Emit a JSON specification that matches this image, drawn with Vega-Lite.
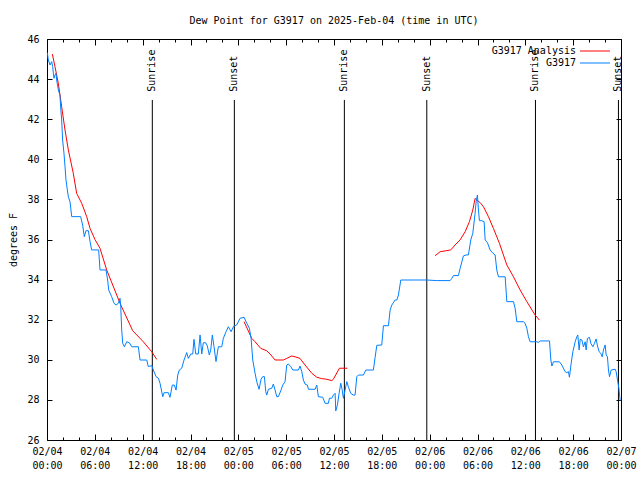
{
  "$schema": "https://vega.github.io/schema/vega-lite/v6.json",
  "width": 574,
  "height": 401,
  "autosize": {"type": "none"},
  "padding": {"left": 47, "top": 39, "right": 19, "bottom": 40},
  "background": "white",
  "title": {"text": "Dew Point for G3917 on 2025-Feb-04 (time in UTC)", "font": "DejaVu Sans Mono", "fontSize": 10, "fontWeight": "normal", "color": "black", "anchor": "middle", "offset": 8},
  "config": {
    "font": "DejaVu Sans Mono",
    "view": {"stroke": "black", "strokeWidth": 1},
    "axis": {"domain": false, "grid": false, "labelFont": "DejaVu Sans Mono", "labelFontSize": 10, "labelColor": "black", "tickColor": "black", "tickWidth": 1, "titleFont": "DejaVu Sans Mono", "titleFontSize": 10, "titleFontWeight": "normal", "titleColor": "black"}
  },
  "datasets": {
    "sun": [
      {"t": 13.21, "label": "Sunrise"},
      {"t": 23.5, "label": "Sunset"},
      {"t": 37.3, "label": "Sunrise"},
      {"t": 47.64, "label": "Sunset"},
      {"t": 61.27, "label": "Sunrise"},
      {"t": 71.68, "label": "Sunset"}
    ],
    "analysis": [
      {"h": 0.67, "v": 45.25, "seg": 1, "series": "G3917 Analysis"},
      {"h": 1.0, "v": 44.62, "seg": 1, "series": "G3917 Analysis"},
      {"h": 1.42, "v": 43.79, "seg": 1, "series": "G3917 Analysis"},
      {"h": 1.84, "v": 42.62, "seg": 1, "series": "G3917 Analysis"},
      {"h": 2.26, "v": 41.46, "seg": 1, "series": "G3917 Analysis"},
      {"h": 2.68, "v": 40.46, "seg": 1, "series": "G3917 Analysis"},
      {"h": 3.3, "v": 39.3, "seg": 1, "series": "G3917 Analysis"},
      {"h": 3.72, "v": 38.3, "seg": 1, "series": "G3917 Analysis"},
      {"h": 4.35, "v": 37.81, "seg": 1, "series": "G3917 Analysis"},
      {"h": 4.98, "v": 37.14, "seg": 1, "series": "G3917 Analysis"},
      {"h": 5.4, "v": 36.55, "seg": 1, "series": "G3917 Analysis"},
      {"h": 6.02, "v": 36.0, "seg": 1, "series": "G3917 Analysis"},
      {"h": 6.65, "v": 35.56, "seg": 1, "series": "G3917 Analysis"},
      {"h": 7.49, "v": 34.48, "seg": 1, "series": "G3917 Analysis"},
      {"h": 9.16, "v": 32.82, "seg": 1, "series": "G3917 Analysis"},
      {"h": 10.75, "v": 31.45, "seg": 1, "series": "G3917 Analysis"},
      {"h": 12.08, "v": 30.9, "seg": 1, "series": "G3917 Analysis"},
      {"h": 13.14, "v": 30.4, "seg": 1, "series": "G3917 Analysis"},
      {"h": 13.76, "v": 30.02, "seg": 1, "series": "G3917 Analysis"},
      {"h": 24.72, "v": 31.9, "seg": 2, "series": "G3917 Analysis"},
      {"h": 25.68, "v": 31.07, "seg": 2, "series": "G3917 Analysis"},
      {"h": 26.1, "v": 30.9, "seg": 2, "series": "G3917 Analysis"},
      {"h": 26.81, "v": 30.57, "seg": 2, "series": "G3917 Analysis"},
      {"h": 27.57, "v": 30.45, "seg": 2, "series": "G3917 Analysis"},
      {"h": 27.98, "v": 30.29, "seg": 2, "series": "G3917 Analysis"},
      {"h": 28.61, "v": 29.99, "seg": 2, "series": "G3917 Analysis"},
      {"h": 29.65, "v": 29.99, "seg": 2, "series": "G3917 Analysis"},
      {"h": 30.07, "v": 30.07, "seg": 2, "series": "G3917 Analysis"},
      {"h": 30.7, "v": 30.19, "seg": 2, "series": "G3917 Analysis"},
      {"h": 31.12, "v": 30.15, "seg": 2, "series": "G3917 Analysis"},
      {"h": 31.74, "v": 30.07, "seg": 2, "series": "G3917 Analysis"},
      {"h": 32.37, "v": 29.74, "seg": 2, "series": "G3917 Analysis"},
      {"h": 33.21, "v": 29.33, "seg": 2, "series": "G3917 Analysis"},
      {"h": 33.84, "v": 29.13, "seg": 2, "series": "G3917 Analysis"},
      {"h": 34.46, "v": 29.06, "seg": 2, "series": "G3917 Analysis"},
      {"h": 35.09, "v": 29.03, "seg": 2, "series": "G3917 Analysis"},
      {"h": 35.72, "v": 28.96, "seg": 2, "series": "G3917 Analysis"},
      {"h": 35.92, "v": 29.03, "seg": 2, "series": "G3917 Analysis"},
      {"h": 36.68, "v": 29.58, "seg": 2, "series": "G3917 Analysis"},
      {"h": 37.68, "v": 29.58, "seg": 2, "series": "G3917 Analysis"},
      {"h": 48.68, "v": 35.19, "seg": 3, "series": "G3917 Analysis"},
      {"h": 49.31, "v": 35.39, "seg": 3, "series": "G3917 Analysis"},
      {"h": 50.06, "v": 35.44, "seg": 3, "series": "G3917 Analysis"},
      {"h": 50.65, "v": 35.48, "seg": 3, "series": "G3917 Analysis"},
      {"h": 51.19, "v": 35.73, "seg": 3, "series": "G3917 Analysis"},
      {"h": 51.82, "v": 35.98, "seg": 3, "series": "G3917 Analysis"},
      {"h": 52.45, "v": 36.39, "seg": 3, "series": "G3917 Analysis"},
      {"h": 52.99, "v": 36.89, "seg": 3, "series": "G3917 Analysis"},
      {"h": 53.41, "v": 37.47, "seg": 3, "series": "G3917 Analysis"},
      {"h": 53.7, "v": 38.05, "seg": 3, "series": "G3917 Analysis"},
      {"h": 53.91, "v": 37.97, "seg": 3, "series": "G3917 Analysis"},
      {"h": 54.33, "v": 37.84, "seg": 3, "series": "G3917 Analysis"},
      {"h": 54.74, "v": 37.64, "seg": 3, "series": "G3917 Analysis"},
      {"h": 55.37, "v": 37.14, "seg": 3, "series": "G3917 Analysis"},
      {"h": 55.99, "v": 36.56, "seg": 3, "series": "G3917 Analysis"},
      {"h": 56.75, "v": 35.81, "seg": 3, "series": "G3917 Analysis"},
      {"h": 57.68, "v": 34.73, "seg": 3, "series": "G3917 Analysis"},
      {"h": 58.51, "v": 34.14, "seg": 3, "series": "G3917 Analysis"},
      {"h": 59.35, "v": 33.48, "seg": 3, "series": "G3917 Analysis"},
      {"h": 60.19, "v": 32.9, "seg": 3, "series": "G3917 Analysis"},
      {"h": 61.23, "v": 32.23, "seg": 3, "series": "G3917 Analysis"},
      {"h": 61.77, "v": 31.98, "seg": 3, "series": "G3917 Analysis"}
    ],
    "obs": [
      {"h": 0.04, "v": 45.32, "series": "G3917"},
      {"h": 0.17, "v": 44.95, "series": "G3917"},
      {"h": 0.38, "v": 44.7, "series": "G3917"},
      {"h": 0.59, "v": 44.87, "series": "G3917"},
      {"h": 0.71, "v": 44.62, "series": "G3917"},
      {"h": 0.8, "v": 44.29, "series": "G3917"},
      {"h": 0.88, "v": 44.04, "series": "G3917"},
      {"h": 1.0, "v": 44.2, "series": "G3917"},
      {"h": 1.13, "v": 44.29, "series": "G3917"},
      {"h": 1.21, "v": 43.96, "series": "G3917"},
      {"h": 1.42, "v": 43.46, "series": "G3917"},
      {"h": 1.63, "v": 43.2, "series": "G3917"},
      {"h": 1.71, "v": 42.6, "series": "G3917"},
      {"h": 1.84, "v": 41.96, "series": "G3917"},
      {"h": 1.96, "v": 40.96, "series": "G3917"},
      {"h": 2.13, "v": 40.3, "series": "G3917"},
      {"h": 2.26, "v": 39.63, "series": "G3917"},
      {"h": 2.38, "v": 38.97, "series": "G3917"},
      {"h": 2.55, "v": 38.47, "series": "G3917"},
      {"h": 2.68, "v": 38.13, "series": "G3917"},
      {"h": 2.89, "v": 37.88, "series": "G3917"},
      {"h": 3.1, "v": 37.14, "series": "G3917"},
      {"h": 4.22, "v": 37.14, "series": "G3917"},
      {"h": 4.47, "v": 36.72, "series": "G3917"},
      {"h": 4.68, "v": 36.14, "series": "G3917"},
      {"h": 4.89, "v": 36.44, "series": "G3917"},
      {"h": 5.19, "v": 36.44, "series": "G3917"},
      {"h": 5.4, "v": 35.89, "series": "G3917"},
      {"h": 5.6, "v": 35.48, "series": "G3917"},
      {"h": 6.48, "v": 35.48, "series": "G3917"},
      {"h": 6.65, "v": 34.48, "series": "G3917"},
      {"h": 7.4, "v": 34.48, "series": "G3917"},
      {"h": 7.61, "v": 33.98, "series": "G3917"},
      {"h": 7.74, "v": 33.48, "series": "G3917"},
      {"h": 8.11, "v": 33.15, "series": "G3917"},
      {"h": 8.41, "v": 32.82, "series": "G3917"},
      {"h": 8.66, "v": 32.73, "series": "G3917"},
      {"h": 8.95, "v": 32.82, "series": "G3917"},
      {"h": 9.16, "v": 33.07, "series": "G3917"},
      {"h": 9.25, "v": 32.65, "series": "G3917"},
      {"h": 9.37, "v": 31.49, "series": "G3917"},
      {"h": 9.5, "v": 30.82, "series": "G3917"},
      {"h": 9.7, "v": 30.65, "series": "G3917"},
      {"h": 10.0, "v": 30.9, "series": "G3917"},
      {"h": 10.33, "v": 30.85, "series": "G3917"},
      {"h": 10.63, "v": 30.65, "series": "G3917"},
      {"h": 11.46, "v": 30.65, "series": "G3917"},
      {"h": 11.67, "v": 29.99, "series": "G3917"},
      {"h": 12.51, "v": 29.99, "series": "G3917"},
      {"h": 12.71, "v": 29.66, "series": "G3917"},
      {"h": 13.14, "v": 29.71, "series": "G3917"},
      {"h": 13.34, "v": 29.49, "series": "G3917"},
      {"h": 13.68, "v": 29.16, "series": "G3917"},
      {"h": 13.97, "v": 29.08, "series": "G3917"},
      {"h": 14.18, "v": 28.83, "series": "G3917"},
      {"h": 14.52, "v": 28.16, "series": "G3917"},
      {"h": 14.68, "v": 28.36, "series": "G3917"},
      {"h": 15.22, "v": 28.36, "series": "G3917"},
      {"h": 15.43, "v": 28.13, "series": "G3917"},
      {"h": 15.72, "v": 28.74, "series": "G3917"},
      {"h": 15.97, "v": 28.74, "series": "G3917"},
      {"h": 16.19, "v": 28.49, "series": "G3917"},
      {"h": 16.4, "v": 29.24, "series": "G3917"},
      {"h": 16.6, "v": 29.49, "series": "G3917"},
      {"h": 16.9, "v": 29.58, "series": "G3917"},
      {"h": 17.19, "v": 29.99, "series": "G3917"},
      {"h": 17.53, "v": 30.36, "series": "G3917"},
      {"h": 17.73, "v": 30.07, "series": "G3917"},
      {"h": 18.03, "v": 30.29, "series": "G3917"},
      {"h": 18.28, "v": 30.29, "series": "G3917"},
      {"h": 18.44, "v": 31.02, "series": "G3917"},
      {"h": 18.66, "v": 30.29, "series": "G3917"},
      {"h": 18.98, "v": 30.29, "series": "G3917"},
      {"h": 19.2, "v": 31.24, "series": "G3917"},
      {"h": 19.41, "v": 30.29, "series": "G3917"},
      {"h": 19.61, "v": 30.85, "series": "G3917"},
      {"h": 19.91, "v": 30.85, "series": "G3917"},
      {"h": 20.11, "v": 30.69, "series": "G3917"},
      {"h": 20.36, "v": 30.24, "series": "G3917"},
      {"h": 20.54, "v": 30.49, "series": "G3917"},
      {"h": 20.74, "v": 31.24, "series": "G3917"},
      {"h": 20.95, "v": 30.65, "series": "G3917"},
      {"h": 21.2, "v": 29.91, "series": "G3917"},
      {"h": 21.49, "v": 30.65, "series": "G3917"},
      {"h": 21.92, "v": 30.65, "series": "G3917"},
      {"h": 22.12, "v": 31.07, "series": "G3917"},
      {"h": 22.46, "v": 31.4, "series": "G3917"},
      {"h": 22.75, "v": 31.65, "series": "G3917"},
      {"h": 23.09, "v": 31.4, "series": "G3917"},
      {"h": 23.38, "v": 31.65, "series": "G3917"},
      {"h": 23.8, "v": 31.74, "series": "G3917"},
      {"h": 24.22, "v": 32.07, "series": "G3917"},
      {"h": 24.72, "v": 32.12, "series": "G3917"},
      {"h": 25.06, "v": 31.82, "series": "G3917"},
      {"h": 25.39, "v": 31.57, "series": "G3917"},
      {"h": 25.6, "v": 31.07, "series": "G3917"},
      {"h": 25.81, "v": 29.99, "series": "G3917"},
      {"h": 26.1, "v": 29.33, "series": "G3917"},
      {"h": 26.31, "v": 28.91, "series": "G3917"},
      {"h": 26.6, "v": 28.53, "series": "G3917"},
      {"h": 26.85, "v": 29.03, "series": "G3917"},
      {"h": 27.06, "v": 29.16, "series": "G3917"},
      {"h": 27.27, "v": 29.16, "series": "G3917"},
      {"h": 27.44, "v": 28.41, "series": "G3917"},
      {"h": 27.57, "v": 28.24, "series": "G3917"},
      {"h": 27.77, "v": 28.53, "series": "G3917"},
      {"h": 28.19, "v": 28.58, "series": "G3917"},
      {"h": 28.39, "v": 28.79, "series": "G3917"},
      {"h": 28.61, "v": 28.49, "series": "G3917"},
      {"h": 28.82, "v": 28.16, "series": "G3917"},
      {"h": 29.02, "v": 28.16, "series": "G3917"},
      {"h": 29.36, "v": 28.49, "series": "G3917"},
      {"h": 29.57, "v": 28.74, "series": "G3917"},
      {"h": 29.86, "v": 28.91, "series": "G3917"},
      {"h": 30.07, "v": 29.74, "series": "G3917"},
      {"h": 30.28, "v": 29.79, "series": "G3917"},
      {"h": 30.58, "v": 29.66, "series": "G3917"},
      {"h": 30.83, "v": 29.49, "series": "G3917"},
      {"h": 31.53, "v": 29.49, "series": "G3917"},
      {"h": 31.74, "v": 29.69, "series": "G3917"},
      {"h": 31.96, "v": 29.41, "series": "G3917"},
      {"h": 32.16, "v": 28.99, "series": "G3917"},
      {"h": 32.37, "v": 28.79, "series": "G3917"},
      {"h": 32.66, "v": 28.74, "series": "G3917"},
      {"h": 32.79, "v": 28.53, "series": "G3917"},
      {"h": 33.63, "v": 28.53, "series": "G3917"},
      {"h": 33.84, "v": 28.74, "series": "G3917"},
      {"h": 34.04, "v": 28.16, "series": "G3917"},
      {"h": 34.59, "v": 28.13, "series": "G3917"},
      {"h": 34.88, "v": 27.83, "series": "G3917"},
      {"h": 35.3, "v": 27.83, "series": "G3917"},
      {"h": 35.42, "v": 28.08, "series": "G3917"},
      {"h": 35.72, "v": 28.08, "series": "G3917"},
      {"h": 35.92, "v": 28.24, "series": "G3917"},
      {"h": 36.14, "v": 28.33, "series": "G3917"},
      {"h": 36.22, "v": 27.45, "series": "G3917"},
      {"h": 36.43, "v": 27.75, "series": "G3917"},
      {"h": 36.64, "v": 28.33, "series": "G3917"},
      {"h": 36.85, "v": 28.83, "series": "G3917"},
      {"h": 37.01, "v": 28.53, "series": "G3917"},
      {"h": 37.18, "v": 28.08, "series": "G3917"},
      {"h": 37.39, "v": 28.49, "series": "G3917"},
      {"h": 37.6, "v": 28.91, "series": "G3917"},
      {"h": 37.8, "v": 28.66, "series": "G3917"},
      {"h": 38.1, "v": 28.33, "series": "G3917"},
      {"h": 38.43, "v": 28.24, "series": "G3917"},
      {"h": 38.64, "v": 28.24, "series": "G3917"},
      {"h": 38.86, "v": 29.16, "series": "G3917"},
      {"h": 39.06, "v": 29.24, "series": "G3917"},
      {"h": 39.69, "v": 29.24, "series": "G3917"},
      {"h": 39.99, "v": 29.49, "series": "G3917"},
      {"h": 40.94, "v": 29.49, "series": "G3917"},
      {"h": 41.15, "v": 30.1, "series": "G3917"},
      {"h": 41.37, "v": 30.72, "series": "G3917"},
      {"h": 41.99, "v": 30.74, "series": "G3917"},
      {"h": 42.2, "v": 31.7, "series": "G3917"},
      {"h": 42.83, "v": 31.7, "series": "G3917"},
      {"h": 43.04, "v": 32.48, "series": "G3917"},
      {"h": 43.25, "v": 32.73, "series": "G3917"},
      {"h": 43.66, "v": 32.98, "series": "G3917"},
      {"h": 43.88, "v": 32.98, "series": "G3917"},
      {"h": 44.08, "v": 33.23, "series": "G3917"},
      {"h": 44.38, "v": 33.98, "series": "G3917"},
      {"h": 47.64, "v": 33.98, "series": "G3917"},
      {"h": 48.9, "v": 33.95, "series": "G3917"},
      {"h": 50.56, "v": 33.95, "series": "G3917"},
      {"h": 50.78, "v": 34.06, "series": "G3917"},
      {"h": 50.98, "v": 34.2, "series": "G3917"},
      {"h": 51.61, "v": 34.2, "series": "G3917"},
      {"h": 51.82, "v": 34.56, "series": "G3917"},
      {"h": 52.23, "v": 35.18, "series": "G3917"},
      {"h": 52.57, "v": 35.23, "series": "G3917"},
      {"h": 52.86, "v": 35.23, "series": "G3917"},
      {"h": 53.16, "v": 35.98, "series": "G3917"},
      {"h": 53.41, "v": 36.31, "series": "G3917"},
      {"h": 53.7, "v": 37.31, "series": "G3917"},
      {"h": 53.83, "v": 37.88, "series": "G3917"},
      {"h": 53.99, "v": 38.22, "series": "G3917"},
      {"h": 54.12, "v": 37.47, "series": "G3917"},
      {"h": 54.24, "v": 36.94, "series": "G3917"},
      {"h": 54.54, "v": 36.94, "series": "G3917"},
      {"h": 54.83, "v": 36.89, "series": "G3917"},
      {"h": 54.96, "v": 35.98, "series": "G3917"},
      {"h": 55.25, "v": 35.84, "series": "G3917"},
      {"h": 55.58, "v": 35.48, "series": "G3917"},
      {"h": 55.87, "v": 35.34, "series": "G3917"},
      {"h": 56.21, "v": 35.23, "series": "G3917"},
      {"h": 56.42, "v": 34.48, "series": "G3917"},
      {"h": 56.63, "v": 34.14, "series": "G3917"},
      {"h": 57.47, "v": 34.14, "series": "G3917"},
      {"h": 57.68, "v": 32.9, "series": "G3917"},
      {"h": 58.51, "v": 32.9, "series": "G3917"},
      {"h": 58.72, "v": 32.57, "series": "G3917"},
      {"h": 58.93, "v": 31.9, "series": "G3917"},
      {"h": 59.76, "v": 31.9, "series": "G3917"},
      {"h": 59.97, "v": 31.82, "series": "G3917"},
      {"h": 60.19, "v": 31.57, "series": "G3917"},
      {"h": 60.39, "v": 31.15, "series": "G3917"},
      {"h": 60.6, "v": 30.9, "series": "G3917"},
      {"h": 61.44, "v": 30.9, "series": "G3917"},
      {"h": 61.64, "v": 30.87, "series": "G3917"},
      {"h": 61.86, "v": 30.94, "series": "G3917"},
      {"h": 63.03, "v": 30.94, "series": "G3917"},
      {"h": 63.2, "v": 29.99, "series": "G3917"},
      {"h": 63.33, "v": 29.69, "series": "G3917"},
      {"h": 63.53, "v": 29.9, "series": "G3917"},
      {"h": 64.28, "v": 29.9, "series": "G3917"},
      {"h": 64.58, "v": 29.74, "series": "G3917"},
      {"h": 64.99, "v": 29.41, "series": "G3917"},
      {"h": 65.21, "v": 29.36, "series": "G3917"},
      {"h": 65.41, "v": 29.41, "series": "G3917"},
      {"h": 65.53, "v": 29.13, "series": "G3917"},
      {"h": 65.75, "v": 29.83, "series": "G3917"},
      {"h": 65.96, "v": 30.4, "series": "G3917"},
      {"h": 66.25, "v": 30.9, "series": "G3917"},
      {"h": 66.46, "v": 31.15, "series": "G3917"},
      {"h": 66.58, "v": 31.24, "series": "G3917"},
      {"h": 66.75, "v": 30.49, "series": "G3917"},
      {"h": 66.88, "v": 31.02, "series": "G3917"},
      {"h": 67.09, "v": 30.99, "series": "G3917"},
      {"h": 67.29, "v": 30.65, "series": "G3917"},
      {"h": 67.5, "v": 30.9, "series": "G3917"},
      {"h": 67.63, "v": 30.49, "series": "G3917"},
      {"h": 67.79, "v": 31.07, "series": "G3917"},
      {"h": 68.04, "v": 31.12, "series": "G3917"},
      {"h": 68.22, "v": 30.82, "series": "G3917"},
      {"h": 68.47, "v": 30.65, "series": "G3917"},
      {"h": 68.67, "v": 30.82, "series": "G3917"},
      {"h": 68.88, "v": 31.04, "series": "G3917"},
      {"h": 69.05, "v": 30.69, "series": "G3917"},
      {"h": 69.26, "v": 30.4, "series": "G3917"},
      {"h": 69.47, "v": 30.32, "series": "G3917"},
      {"h": 69.64, "v": 30.15, "series": "G3917"},
      {"h": 69.8, "v": 30.49, "series": "G3917"},
      {"h": 70.01, "v": 30.74, "series": "G3917"},
      {"h": 70.14, "v": 30.24, "series": "G3917"},
      {"h": 70.3, "v": 30.15, "series": "G3917"},
      {"h": 70.43, "v": 29.49, "series": "G3917"},
      {"h": 70.56, "v": 29.16, "series": "G3917"},
      {"h": 70.77, "v": 29.49, "series": "G3917"},
      {"h": 71.27, "v": 29.53, "series": "G3917"},
      {"h": 71.39, "v": 29.41, "series": "G3917"},
      {"h": 71.56, "v": 28.99, "series": "G3917"},
      {"h": 71.74, "v": 28.58, "series": "G3917"},
      {"h": 71.82, "v": 28.24, "series": "G3917"},
      {"h": 71.9, "v": 27.95, "series": "G3917"}
    ]
  },
  "layer": [
    {
      "data": {"name": "sun"},
      "mark": {"type": "rule", "color": "black", "strokeWidth": 1},
      "encoding": {
        "x": {"field": "t", "type": "quantitative", "scale": {"domain": [0, 72], "nice": false, "zero": false},
          "axis": {"orient": "top", "values": [0,2,4,6,8,10,12,14,16,18,20,22,24,26,28,30,32,34,36,38,40,42,44,46,48,50,52,54,56,58,60,62,64,66,68,70,72], "labels": false, "title": null, "tickSize": {"condition": {"test": "datum.value % 6 === 0", "value": -6}, "value": -3}}},
        "y": {"datum": 26, "type": "quantitative", "scale": {"domain": [26, 46], "nice": false, "zero": false},
          "axis": {"orient": "right", "values": [26,28,30,32,34,36,38,40,42,44,46], "labels": false, "title": null, "tickSize": -5}},
        "y2": {"datum": 42.96}
      }
    },
    {
      "data": {"name": "sun"},
      "mark": {"type": "text", "angle": 270, "align": "left", "baseline": "middle", "font": "DejaVu Sans Mono", "fontSize": 10, "color": "black"},
      "encoding": {
        "x": {"field": "t", "type": "quantitative", "axis": null},
        "y": {"datum": 43.37, "type": "quantitative", "axis": null},
        "text": {"field": "label"}
      }
    },
    {
      "data": {"name": "analysis"},
      "mark": {"type": "line", "strokeWidth": 1, "interpolate": "linear"},
      "encoding": {
        "x": {"field": "h", "type": "quantitative", "axis": null},
        "y": {"field": "v", "type": "quantitative", "axis": null},
        "color": {"field": "series", "type": "nominal"},
        "detail": {"field": "seg"}
      }
    },
    {
      "data": {"name": "obs"},
      "mark": {"type": "line", "strokeWidth": 1, "interpolate": "linear"},
      "encoding": {
        "x": {"field": "h", "type": "quantitative", "scale": {"domain": [0, 72], "nice": false, "zero": false},
          "axis": {"orient": "bottom", "values": [0,2,4,6,8,10,12,14,16,18,20,22,24,26,28,30,32,34,36,38,40,42,44,46,48,50,52,54,56,58,60,62,64,66,68,70,72],
            "labelExpr": "datum.value % 6 === 0 ? ['02/0' + (4 + floor(datum.value / 24)), (datum.value % 24 < 10 ? '0' : '') + (datum.value % 24) + ':00'] : ''",
            "labelOverlap": false, "labelFlush": false, "labelBound": false, "labelLineHeight": 14.6, "labelBaseline": "top", "labelPadding": 12, "title": null,
            "tickSize": {"condition": {"test": "datum.value % 6 === 0", "value": -6}, "value": -3}}},
        "y": {"field": "v", "type": "quantitative", "scale": {"domain": [26, 46], "nice": false, "zero": false},
          "axis": {"orient": "left", "values": [26,28,30,32,34,36,38,40,42,44,46], "tickSize": -5, "labelPadding": 13, "title": "degrees F", "titlePadding": 8}},
        "color": {"field": "series", "type": "nominal",
          "scale": {"domain": ["G3917 Analysis", "G3917"], "range": ["#ff0000", "#0080ff"]},
          "legend": {"orient": "none", "legendX": 543, "legendY": 7, "title": null, "symbolType": "M-5,0H5", "symbolSize": 36, "symbolStrokeWidth": 1, "labelAlign": "right", "labelOffset": -24, "labelFont": "DejaVu Sans Mono", "labelFontSize": 10, "labelColor": "black", "rowPadding": 2, "padding": 0}}
      }
    }
  ],
  "resolve": {"axis": {"x": "independent", "y": "independent"}}
}
